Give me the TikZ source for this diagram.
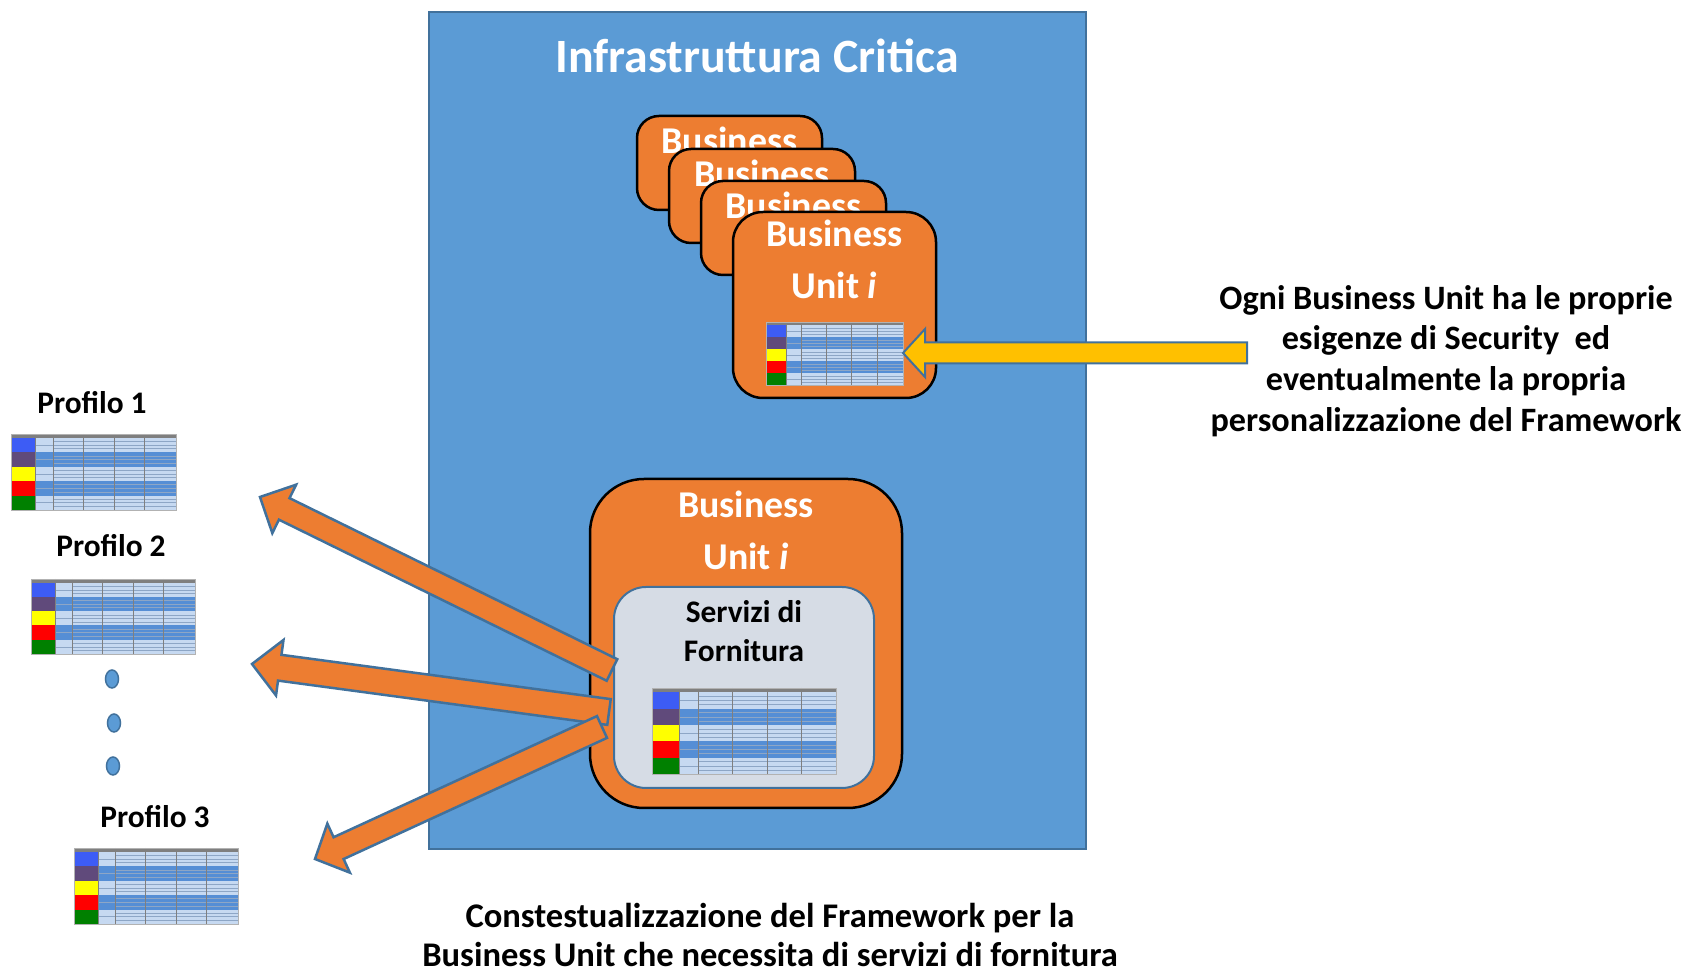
\documentclass[tikz,border=0pt]{standalone}
\usepackage{fontspec}
\setmainfont{Carlito}
\usetikzlibrary{calc}
\definecolor{infrablue}{HTML}{5B9BD5}
\definecolor{edgeblue}{HTML}{41719C}
\definecolor{buorange}{HTML}{ED7D31}
\definecolor{supplygray}{HTML}{D6DCE5}
\definecolor{arrowgold}{HTML}{FFC000}
\definecolor{hdrgray}{HTML}{7F7F7F}
\definecolor{rowlight}{HTML}{C6D9F1}
\definecolor{rowdark}{HTML}{558ED5}
\definecolor{idblue}{HTML}{3D5CF5}
\definecolor{prpurple}{HTML}{604A7B}
\definecolor{dtyellow}{HTML}{FFFF00}
\definecolor{rsred}{HTML}{FF0000}
\definecolor{rcgreen}{HTML}{008000}
\definecolor{tabline}{HTML}{8DA6C6}
\tikzset{
  unitbox/.style={draw=black,line width=2.5bp,fill=buorange,rounded corners=22bp},
  unittext/.style={text=white,font=\fontsize{38}{40}\selectfont\bfseries},
  blacktext/.style={text=black,font=\fontsize{31.5}{39}\selectfont\bfseries,align=center},
  orangearrow/.style={draw=edgeblue,line width=2.5bp,fill=buorange,line join=miter},
  goldarrow/.style={draw=edgeblue,line width=2bp,fill=arrowgold,line join=miter},
  dot/.style={draw=edgeblue,line width=1.5bp,fill=infrablue,ellipse,inner sep=0pt,minimum width=13bp,minimum height=18bp},
  pics/fwtable/.style={code={
    \fill[hdrgray] (0,0) rectangle (1,-0.05);
    \foreach \lab/\fillc [count=\k] in {idblue/rowlight,prpurple/rowdark,dtyellow/rowlight,rsred/rowdark,rcgreen/rowlight}{
      \pgfmathsetmacro\ya{-0.05-0.19*(\k-1)}
      \pgfmathsetmacro\yb{\ya-0.19}
      \fill[\fillc] (0.146,\ya) rectangle (1,\yb);
      \fill[\lab] (0,\ya) rectangle (0.146,\yb);
      \foreach \f in {0.25,0.5,0.75}
        \draw[tabline,line width=0.6bp] (0.254,{\ya-0.19*\f}) -- (1,{\ya-0.19*\f});
      \draw[tabline,line width=0.6bp] (0.146,{\ya-0.095}) -- (0.254,{\ya-0.095});
    }
    \foreach \xc in {0.146,0.254,0.437,0.626,0.809}
      \draw[hdrgray,line width=0.6bp] (\xc,0) -- (\xc,-1);
    \draw[hdrgray!60,line width=0.5bp] (0,0) rectangle (1,-1);
  }}
}
% block arrow: style, tail, tip, shaft half width, head half width, head length
\newcommand{\blockarrow}[6]{%
  \draw[#1] ($(#2)!#4!90:(#3)$) -- ($(#3)!#6!(#2)!#4!-90:(#2)$) -- ($(#3)!#6!(#2)!#5!-90:(#2)$)
    -- (#3) -- ($(#3)!#6!(#2)!#5!90:(#2)$) -- ($(#3)!#6!(#2)!#4!90:(#2)$) -- ($(#2)!#4!-90:(#3)$) -- cycle;}
\usetikzlibrary{shapes.geometric}
\begin{document}
\begin{tikzpicture}
  \useasboundingbox (0bp,0bp) rectangle (1690bp,971bp);
  \node (infra) at (757.5bp,540.5bp) [draw=edgeblue,line width=2bp,fill=infrablue,minimum width=657bp,minimum height=837bp] {};
  \node (title) at (757bp,915bp) [text=white,font=\fontsize{48}{50}\selectfont\bfseries] {Infrastruttura Critica};
  % stack of business units
  \node (bu1) at (729.5bp,808bp) [unitbox,minimum width=185bp,minimum height=94bp] {};
  \node (bu1txt) at (729.5bp,831bp) [unittext] {Business};
  \node (bu2) at (762bp,775bp) [unitbox,minimum width=186bp,minimum height=94bp] {};
  \node (bu2txt) at (762bp,798bp) [unittext] {Business};
  \node (bu3) at (793.5bp,743bp) [unitbox,minimum width=185bp,minimum height=94bp] {};
  \node (bu3txt) at (793.5bp,766bp) [unittext] {Business};
  \node (bu4) at (834.5bp,666bp) [unitbox,rounded corners=30bp,minimum width=203bp,minimum height=186bp] {};
  \node (bu4txt) at (834.5bp,738bp) [unittext] {Business};
  \node (bu4unit) at (834.5bp,686bp) [unittext] {Unit \textit{i}};
  \pic[x=137bp,y=63bp] (bu4tab) at (766bp,649bp) {fwtable};
  % business unit with supply services
  \node (bus) at (746bp,327.5bp) [unitbox,rounded corners=54bp,minimum width=312bp,minimum height=329bp] {};
  \node (bustxt) at (746bp,467bp) [unittext] {Business};
  \node (busunit) at (746bp,415bp) [unittext] {Unit \textit{i}};
  \node (supply) at (744bp,283.5bp) [draw=edgeblue,line width=2bp,fill=supplygray,rounded corners=32bp,minimum width=260bp,minimum height=201bp] {};
  \node (supplytxt) at (744bp,339.5bp) [blacktext] {Servizi di\\Fornitura};
  \pic[x=184bp,y=86bp] (supplytab) at (652bp,283bp) {fwtable};
  % profiles
  \node (prof1) at (92bp,568bp) [blacktext] {Profilo 1};
  \pic[x=165bp,y=76bp] (prof1tab) at (11bp,537bp) {fwtable};
  \node (prof2) at (111bp,425bp) [blacktext] {Profilo 2};
  \pic[x=164bp,y=75bp] (prof2tab) at (31bp,392bp) {fwtable};
  \node (dot1) at (112bp,292bp) [dot] {};
  \node (dot2) at (114bp,248bp) [dot] {};
  \node (dot3) at (113bp,205bp) [dot] {};
  \node (prof3) at (155bp,154bp) [blacktext] {Profilo 3};
  \pic[x=164bp,y=76bp] (prof3tab) at (74bp,123bp) {fwtable};
  % arrows
  \coordinate (t1) at (612bp,301bp);
  \coordinate (p1) at (260bp,474bp);
  \coordinate (t2) at (609bp,259bp);
  \coordinate (p2) at (252bp,307bp);
  \coordinate (t3) at (602bp,244bp);
  \coordinate (p3) at (315bp,112bp);
  \blockarrow{orangearrow}{t1}{p1}{12bp}{27bp}{27bp}
  \blockarrow{orangearrow}{t2}{p2}{13bp}{28bp}{28bp}
  \blockarrow{orangearrow}{t3}{p3}{12bp}{27bp}{26bp}
  \coordinate (tg) at (1247bp,618bp);
  \coordinate (pg) at (903bp,618bp);
  \blockarrow{goldarrow}{tg}{pg}{10.5bp}{24bp}{22bp}
  % texts
  \node (note) at (1446bp,610bp) [blacktext,font=\fontsize{34.3}{41}\selectfont\bfseries] {Ogni Business Unit ha le proprie\\esigenze di Security~ ed\\eventualmente la propria\\personalizzazione del Framework};
  \node (caption) at (770bp,36bp) [blacktext,inner sep=0pt,font=\fontsize{34.7}{40}\selectfont\bfseries] {Constestualizzazione del Framework per la\\Business Unit che necessita di servizi di fornitura};
\end{tikzpicture}
\end{document}
